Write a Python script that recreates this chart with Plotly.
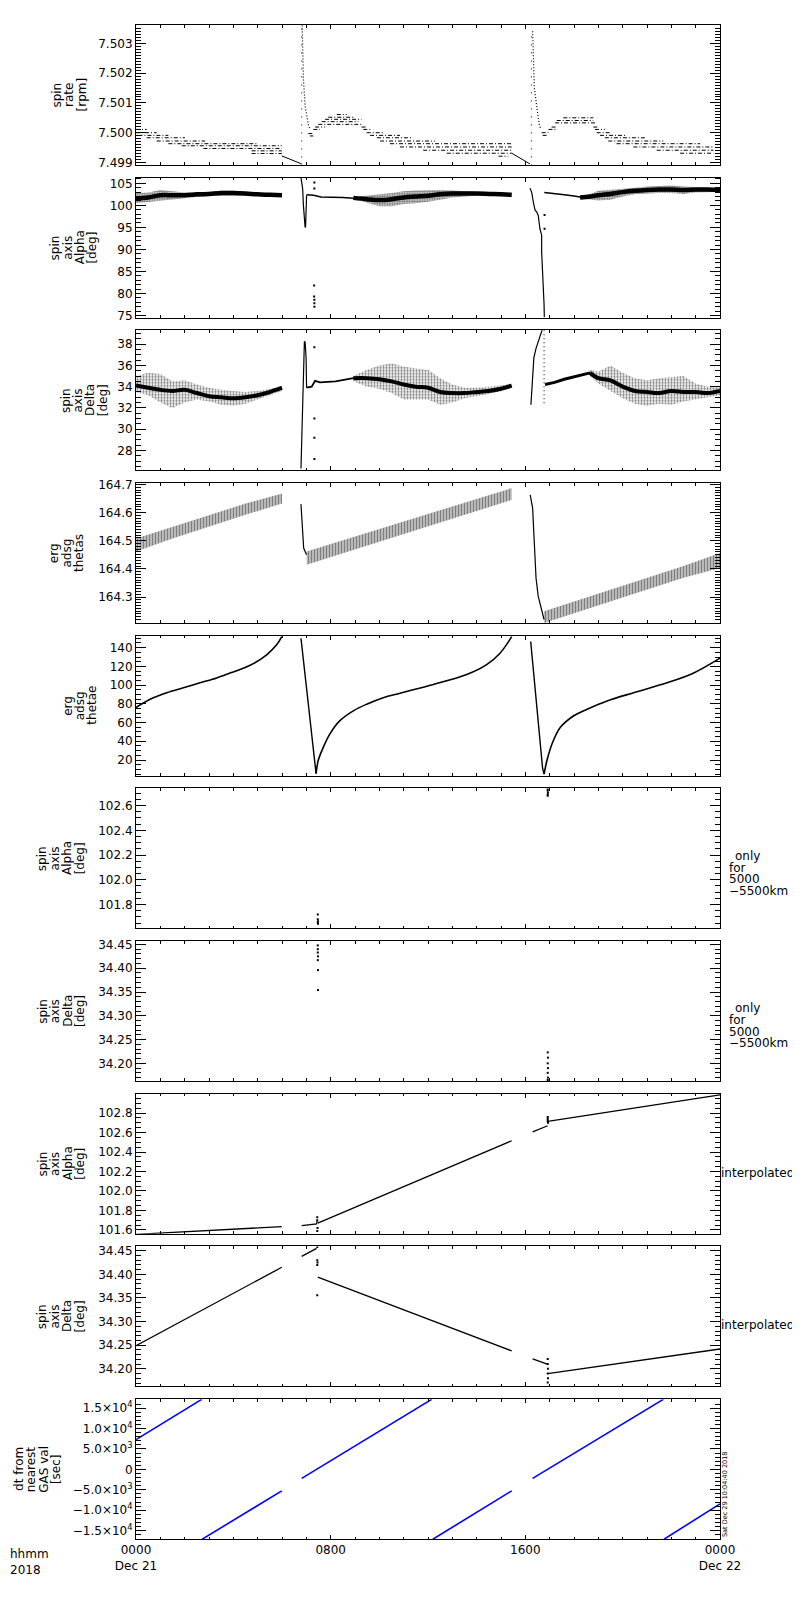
import plotly.graph_objects as go
from plotly.subplots import make_subplots

# ---------------- x axis (hours from 0000 Dec 21 2018) ----------------
X_RANGE = [0, 24]
X_TICKS = [0, 8, 16, 24]
X_TICKTEXT = ["0000<br>Dec 21", "0800", "1600", "0000<br>Dec 22"]

# ---------------- panel 1: spin rate [rpm] ----------------
p1_seg_t0 = [0.0, 0.0, 0.1, 0.44, 0.85, 1.33, 1.88, 2.77, 4.75, 4.75,
             7.08, 7.15, 7.29, 7.36, 7.49, 7.63, 7.77, 7.9, 8.25,
             9.27, 9.34, 9.48, 9.62, 9.9, 10.03, 10.44, 10.85, 11.8, 12.77, 14.9,
             16.67, 16.71, 16.95, 17.08, 17.22, 17.29, 17.56,
             18.79, 18.86, 18.93, 19.07, 19.27, 19.41, 19.75, 20.44, 21.4, 22.36]
p1_seg_t1 = [0.44, 0.85, 1.33, 2.01, 2.84, 5.03, 5.99, 5.99, 5.99, 5.99,
             7.29, 7.29, 7.56, 7.77, 9.34, 9.14, 9.27, 8.93, 8.66,
             9.48, 9.69, 10.16, 10.85, 11.34, 12.29, 15.44, 15.44, 15.44, 15.44, 15.3,
             16.95, 16.95, 17.29, 17.29, 18.93, 18.79, 18.79,
             19.0, 19.27, 19.48, 20.17, 20.92, 21.67, 23.18, 23.73, 23.73, 23.73]
p1_seg_v = [7.50011, 7.50000, 7.49991, 7.49983, 7.49972, 7.49963, 7.49956, 7.49947, 7.49939, 7.49930,
            7.49997, 7.49989, 7.50011, 7.50019, 7.50028, 7.50037, 7.50045, 7.50052, 7.50061,
            7.50019, 7.50011, 7.50000, 7.49991, 7.49983, 7.49972, 7.49963, 7.49952, 7.49941, 7.49931, 7.49921,
            7.50000, 7.49991, 7.50011, 7.50019, 7.50033, 7.50041, 7.50050,
            7.50019, 7.50011, 7.50000, 7.49991, 7.49983, 7.49972, 7.49963, 7.49952, 7.49941, 7.49931]
p1_slope1_t = [5.99, 6.4, 6.81]
p1_slope1_v = [7.49922, 7.49908, 7.49895]
p1_slope2_t = [15.44, 15.8, 16.19]
p1_slope2_v = [7.49931, 7.49913, 7.49895]
p1_col1_t = [6.81, 6.81]
p1_col1_v = [7.49890, 7.50360]
p1_col2_t = [16.25, 16.25]
p1_col2_v = [7.49890, 7.50340]
p1_decay1_t = [6.83, 6.88, 6.95, 7.01, 7.08, 7.15]
p1_decay1_v = [7.50360, 7.50180, 7.50090, 7.50060, 7.50028, 7.50011]
p1_decay2_t = [16.30, 16.33, 16.37, 16.44, 16.51, 16.57, 16.64]
p1_decay2_v = [7.50341, 7.50217, 7.50150, 7.50106, 7.50061, 7.50028, 7.50011]

# ---------------- panel 2: spin axis Alpha [deg] ----------------
p2_b1_t = [0, 0.5, 1.0, 1.5, 2.0, 2.5, 3.0, 3.5, 4.0, 4.5, 5.0, 5.5, 6.0]
p2_b1_hi = [102.8, 102.9, 103.5, 103.2, 102.9, 102.8, 102.9, 103.3, 103.3, 103.0, 102.8, 102.6, 102.5]
p2_b1_lo = [100.5, 100.7, 101.1, 101.3, 101.6, 101.9, 102.1, 102.2, 102.2, 102.2, 102.2, 102.1, 102.0]
p2_b1_mid = [101.6, 101.8, 102.3, 102.3, 102.3, 102.5, 102.6, 102.8, 102.8, 102.7, 102.5, 102.4, 102.3]
p2_spike1_t = [6.78, 6.85, 6.88, 6.90, 6.92, 6.95, 6.97, 6.98, 7.01]
p2_spike1_v = [106.3, 103.7, 100.0, 97.7, 96.2, 95.0, 95.2, 97.4, 102.3]
p2_line1_t = [7.01, 7.3, 7.6, 8.0, 8.5, 8.93]
p2_line1_v = [102.4, 102.3, 101.9, 101.9, 101.8, 101.6]
p2_dots1_t = [7.33, 7.33, 7.32, 7.32, 7.33, 7.33, 7.33]
p2_dots1_v = [105.2, 103.8, 81.8, 79.3, 78.6, 77.8, 77.0]
p2_b2_t = [8.93, 9.5, 10.0, 10.5, 11.0, 11.5, 12.0, 12.5, 13.0, 13.5, 14.0, 14.5, 15.0, 15.44]
p2_b2_hi = [101.9, 102.3, 102.5, 102.8, 103.2, 103.4, 103.5, 103.5, 103.4, 103.2, 103.0, 102.9, 102.8, 102.6]
p2_b2_lo = [101.5, 100.6, 99.8, 99.8, 100.3, 100.5, 100.8, 101.3, 101.8, 102.0, 102.2, 102.2, 102.2, 102.2]
p2_b2_mid = [101.7, 101.4, 101.2, 101.4, 101.8, 102.0, 102.2, 102.5, 102.7, 102.7, 102.7, 102.6, 102.5, 102.4]
p2_spike2_t = [16.19, 16.26, 16.33, 16.40, 16.47, 16.53, 16.60, 16.67, 16.67, 16.71, 16.74, 16.77, 16.78]
p2_spike2_v = [103.9, 103.0, 100.7, 98.9, 98.5, 97.7, 94.7, 93.2, 89.5, 85.7, 82.0, 77.5, 74.6]
p2_dots2_t = [16.79, 16.79]
p2_dots2_v = [97.8, 94.7]
p2_line2_t = [16.78, 17.2, 17.6, 18.0, 18.25]
p2_line2_v = [102.9, 102.7, 102.4, 102.1, 101.9]
p2_b3_t = [18.25, 18.66, 19.0, 19.5, 20.0, 20.5, 21.0, 21.5, 22.0, 22.5, 23.0, 23.5, 24.0]
p2_b3_hi = [102.0, 102.6, 103.3, 103.5, 103.8, 104.0, 104.3, 104.4, 104.5, 104.3, 104.1, 104.0, 104.0]
p2_b3_lo = [101.6, 101.4, 101.1, 101.3, 102.0, 102.5, 102.7, 102.8, 102.8, 102.6, 102.9, 103.0, 103.1]
p2_b3_mid = [101.8, 102.0, 102.3, 102.6, 103.0, 103.3, 103.5, 103.6, 103.6, 103.5, 103.6, 103.6, 103.5]

# ---------------- panel 3: spin axis Delta [deg] ----------------
p3_b1_t = [0, 0.5, 1.0, 1.5, 2.0, 2.5, 3.0, 3.5, 4.0, 4.5, 5.0, 5.5, 6.0]
p3_b1_hi = [35.0, 35.3, 35.2, 34.5, 34.6, 34.2, 33.9, 33.7, 33.6, 33.5, 33.6, 33.8, 34.0]
p3_b1_lo = [33.5, 33.2, 32.5, 32.0, 32.5, 32.8, 32.6, 32.3, 32.2, 32.4, 32.8, 33.2, 33.6]
p3_b1_mid = [34.1, 33.9, 33.7, 33.6, 33.7, 33.4, 33.1, 33.0, 32.9, 33.0, 33.2, 33.5, 33.9]
p3_spike1_t = [6.78, 6.81, 6.84, 6.86, 6.89, 6.92, 6.95, 6.97, 6.99, 7.01]
p3_spike1_v = [26.3, 29.2, 32.0, 35.4, 37.6, 38.25, 38.2, 37.6, 36.7, 33.9]
p3_line1_t = [7.01, 7.22, 7.36, 7.56, 8.2, 8.93]
p3_line1_v = [33.9, 34.0, 34.55, 34.4, 34.5, 34.8]
p3_dots1_t = [7.33, 7.33, 7.33, 7.33]
p3_dots1_v = [37.7, 31.0, 29.2, 27.2]
p3_b2_t = [8.93, 9.5, 10.0, 10.5, 11.0, 11.5, 12.0, 12.5, 13.0, 13.5, 14.0, 14.5, 15.0, 15.44]
p3_b2_hi = [35.0, 35.6, 36.0, 36.2, 35.9, 35.7, 35.6, 34.8, 34.2, 33.9, 33.9, 34.0, 34.1, 34.3]
p3_b2_lo = [34.5, 34.0, 33.8, 33.4, 32.8, 32.8, 32.8, 32.3, 32.5, 32.9, 33.1, 33.3, 33.6, 33.9]
p3_b2_mid = [34.8, 34.8, 34.7, 34.5, 34.2, 34.0, 33.9, 33.5, 33.4, 33.4, 33.5, 33.6, 33.8, 34.1]
p3_spike2_t = [16.23, 16.28, 16.35, 16.44, 16.53, 16.60, 16.67, 16.70]
p3_spike2_v = [32.3, 34.5, 36.7, 37.6, 38.25, 38.9, 39.2, 39.4]
p3_col2_t = [16.77, 16.77]
p3_col2_v = [39.3, 32.3]
p3_line2_t = [16.81, 17.2, 17.6, 18.0, 18.3, 18.66]
p3_line2_v = [34.2, 34.4, 34.7, 34.9, 35.1, 35.3]
p3_b3_t = [18.66, 19.0, 19.5, 20.0, 20.5, 21.0, 21.5, 22.0, 22.5, 23.0, 23.5, 24.0]
p3_b3_hi = [35.6, 35.4, 36.0, 35.3, 34.8, 34.6, 34.8, 34.9, 35.0, 34.3, 34.0, 34.0]
p3_b3_lo = [35.0, 34.3, 33.6, 32.9, 32.4, 32.2, 32.4, 32.3, 32.6, 32.8, 33.0, 33.2]
p3_b3_mid = [35.3, 34.8, 34.6, 34.0, 33.6, 33.5, 33.4, 33.6, 33.5, 33.5, 33.4, 33.6]

# ---------------- panel 4: erg adsg thetas ----------------
p4_b1_t = [0, 1.5, 3.0, 4.5, 6.0]
p4_b1_hi = [164.508, 164.550, 164.592, 164.632, 164.668]
p4_b1_lo = [164.462, 164.508, 164.550, 164.592, 164.632]
p4_spike1_t = [6.78, 6.81, 6.85, 6.89, 6.95, 7.01]
p4_spike1_v = [164.630, 164.592, 164.521, 164.474, 164.462, 164.450]
p4_b2_t = [7.01, 9.0, 11.0, 13.0, 15.44]
p4_b2_hi = [164.462, 164.514, 164.568, 164.622, 164.687]
p4_b2_lo = [164.415, 164.470, 164.524, 164.578, 164.645]
p4_spike2_t = [16.20, 16.30, 16.36, 16.44, 16.53, 16.67, 16.77]
p4_spike2_v = [164.663, 164.616, 164.509, 164.367, 164.302, 164.249, 164.220]
p4_b3_t = [16.77, 18.5, 20.5, 22.5, 24.0]
p4_b3_hi = [164.249, 164.298, 164.353, 164.410, 164.456]
p4_b3_lo = [164.208, 164.258, 164.313, 164.368, 164.403]

# ---------------- panel 5: erg adsg thetae ----------------
p5_a_t = [0, 0.58, 1.26, 1.95, 2.63, 3.32, 4.0, 4.69, 5.37, 5.78, 5.99]
p5_a_v = [76.1, 84.9, 91.9, 97.2, 102.5, 107.7, 114.1, 121.1, 132.4, 143.0, 151.8]
p5_b_t = [6.78, 7.36, 7.40]
p5_b_v = [150.0, 9.0, 5.5]
p5_c_t = [7.40, 7.49, 7.7, 7.97, 8.38, 8.93, 9.48, 10.16, 10.85, 12.22, 13.59, 14.41, 14.96, 15.44]
p5_c_v = [5.5, 19.7, 33.8, 47.9, 62.0, 72.5, 79.6, 86.6, 91.4, 100.7, 111.3, 121.9, 134.1, 151.7]
p5_d_t = [16.22, 16.71, 16.77]
p5_d_v = [146.5, 11.0, 5.0]
p5_e_t = [16.77, 16.89, 17.1, 17.44, 17.99, 18.54, 19.36, 20.45, 21.82, 22.92, 24.0]
p5_e_v = [5.0, 19.7, 37.4, 54.9, 67.3, 74.3, 83.1, 91.9, 102.4, 113.0, 128.8]

# ---------------- panel 6 / 7: only for 5000-5500 km ----------------
p6_t = [7.47, 7.47, 7.48, 7.47, 7.48, 16.92, 16.92, 16.93, 16.92, 16.92]
p6_v = [101.72, 101.68, 101.665, 101.655, 101.645, 102.735, 102.72, 102.705, 102.69, 102.68]
p7_t = [7.47, 7.47, 7.47, 7.48, 7.47, 7.48, 7.48,
        16.92, 16.93, 16.92, 16.93, 16.92, 16.93, 16.92]
p7_v = [34.448, 34.440, 34.433, 34.425, 34.417, 34.396, 34.354,
        34.223, 34.212, 34.200, 34.190, 34.180, 34.170, 34.165]

# ---------------- panel 8: spin axis Alpha interpolated ----------------
p8_a_t = [0.0, 0.71, 2.0, 3.5, 5.99]
p8_a_v = [101.555, 101.565, 101.580, 101.605, 101.634]
p8_b_t = [6.81, 7.42, 7.45]
p8_b_v = [101.644, 101.661, 101.695]
p8_c_t = [7.47, 10.85, 15.44]
p8_c_v = [101.670, 102.030, 102.516]
p8_d_t = [16.30, 16.92]
p8_d_v = [102.608, 102.670]
p8_e_t = [16.92, 24.0]
p8_e_v = [102.714, 102.988]
p8_dots_t = [7.45, 7.45, 7.46, 7.45, 16.92, 16.92, 16.92, 16.93]
p8_dots_v = [101.73, 101.70, 101.62, 101.59, 102.76, 102.74, 102.72, 102.70]

# ---------------- panel 9: spin axis Delta interpolated ----------------
p9_a_t = [0.0, 5.99]
p9_a_v = [34.249, 34.415]
p9_b_t = [6.81, 7.42]
p9_b_v = [34.438, 34.455]
p9_c_t = [7.47, 15.44]
p9_c_v = [34.394, 34.238]
p9_d_t = [16.30, 16.90]
p9_d_v = [34.221, 34.210]
p9_e_t = [16.92, 24.0]
p9_e_v = [34.190, 34.242]
p9_dots_t = [7.45, 7.45, 7.46, 7.45, 7.45, 16.92, 16.92, 16.93, 16.92, 16.93, 16.92]
p9_dots_v = [34.458, 34.430, 34.425, 34.420, 34.356, 34.221, 34.210, 34.200, 34.190, 34.180, 34.171]

# ---------------- panel 10: dt from nearest GAS val [sec] ----------------
p10_t0 = [0.0, 2.72, 6.81, 12.20, 16.30, 21.70]
p10_t1 = [2.70, 5.99, 12.15, 15.44, 21.67, 24.0]
p10_v0 = [7300, -17100, -2200, -17100, -2200, -17100]
p10_v1 = [17150, -5250, 17150, -5250, 17150, -8450]
P10_TICKVALS = [-15000, -10000, -5000, 0, 5000, 10000, 15000]
P10_TICKTEXT = ["\u22121.5\u00d710<sup>4</sup>", "\u22121.0\u00d710<sup>4</sup>",
                "\u22125.0\u00d710<sup>3</sup>", "0", "5.0\u00d710<sup>3</sup>",
                "1.0\u00d710<sup>4</sup>", "1.5\u00d710<sup>4</sup>"]

YTITLES = [
    ["spin", "rate", "[rpm]"],
    ["spin", "axis", "Alpha", "[deg]"],
    ["spin", "axis", "Delta", "[deg]"],
    ["erg", "adsg", "thetas"],
    ["erg", "adsg", "thetae"],
    ["spin", "axis", "Alpha", "[deg]"],
    ["spin", "axis", "Delta", "[deg]"],
    ["spin", "axis", "Alpha", "[deg]"],
    ["spin", "axis", "Delta", "[deg]"],
    ["dt from", "nearest", "GAS val", "[sec]"],
]
SIDE_NOTE = ["only", "for", "5000", "\u22125500km"]
STAMP = "Sat Dec 29 10:04:40 2018"

# ---------------- figure ----------------
# the page body has an 8px margin, so the figure is shifted by OFF
OFF = 8
W, H = 800 - OFF, 1600 - 2 * OFF
ML, MT = 136 - OFF, 23 - OFF
PW, PH = 584, 1516
MR, MB = W - ML - PW, H - MT - PH
FONT = "DejaVu Sans"
BLACK = "#000000"

fig = make_subplots(rows=10, cols=1, vertical_spacing=0.0085)


def px_x(px):
    # page pixel -> paper coordinate
    return (px - OFF - ML) / PW


def px_y(py):
    return (MT + PH - (py - OFF)) / PH


def add_line(row, t, v, width=1.0, color=BLACK, dash="solid", shape="linear"):
    fig.add_trace(go.Scatter(x=t, y=v, mode="lines", hoverinfo="skip",
                             line=dict(color=color, width=width, dash=dash, shape=shape)),
                  row=row, col=1)


def add_dots(row, t, v, size=2):
    fig.add_trace(go.Scatter(x=t, y=v, mode="markers", hoverinfo="skip",
                             marker=dict(color=BLACK, size=size, symbol="square")),
                  row=row, col=1)


def add_band(row, t, lo, hi, shape=".", size=3, solidity=0.45):
    fig.add_trace(go.Scatter(x=list(t) + list(t)[::-1], y=list(hi) + list(lo)[::-1],
                             mode="lines", line=dict(width=0), fill="toself",
                             fillcolor="white", hoverinfo="skip",
                             fillpattern=dict(shape=shape, fgcolor=BLACK, bgcolor="white",
                                              size=size, solidity=solidity)),
                  row=row, col=1)


def segments(t0, t1, v0, v1=None):
    xs, ys = [], []
    if v1 is None:
        v1 = v0
    for a, b, c, d in zip(t0, t1, v0, v1):
        xs += [a, b, None]
        ys += [c, d, None]
    return xs, ys


# panel 1
sx, sy = segments(p1_seg_t0, p1_seg_t1, p1_seg_v)
add_line(1, sx, sy, width=1, dash="4px,2px,1px,2px")
add_line(1, p1_slope1_t, p1_slope1_v, width=1)
add_line(1, p1_slope2_t, p1_slope2_v, width=1)
add_line(1, p1_col1_t, p1_col1_v, width=1, dash="1px,7px")
add_line(1, p1_col2_t, p1_col2_v, width=1, dash="1px,7px")
add_line(1, p1_decay1_t, p1_decay1_v, width=1.2, dash="1px,2px")
add_line(1, p1_decay2_t, p1_decay2_v, width=1.2, dash="1px,2px")

# panel 2
for t, lo, hi, mid in [(p2_b1_t, p2_b1_lo, p2_b1_hi, p2_b1_mid),
                       (p2_b2_t, p2_b2_lo, p2_b2_hi, p2_b2_mid),
                       (p2_b3_t, p2_b3_lo, p2_b3_hi, p2_b3_mid)]:
    add_band(2, t, lo, hi, size=2.5, solidity=0.7)
    add_line(2, t, mid, width=4.5, shape="spline")
add_line(2, p2_spike1_t, p2_spike1_v, width=1.2)
add_line(2, p2_line1_t, p2_line1_v, width=1.5)
add_line(2, p2_spike2_t, p2_spike2_v, width=1.2)
add_line(2, p2_line2_t, p2_line2_v, width=1.5)
add_dots(2, p2_dots1_t, p2_dots1_v)
add_dots(2, p2_dots2_t, p2_dots2_v)

# panel 3
for t, lo, hi, mid in [(p3_b1_t, p3_b1_lo, p3_b1_hi, p3_b1_mid),
                       (p3_b2_t, p3_b2_lo, p3_b2_hi, p3_b2_mid),
                       (p3_b3_t, p3_b3_lo, p3_b3_hi, p3_b3_mid)]:
    add_band(3, t, lo, hi, size=3, solidity=0.45)
    add_line(3, t, mid, width=4, shape="spline")
add_line(3, p3_spike1_t, p3_spike1_v, width=1.2)
add_line(3, p3_line1_t, p3_line1_v, width=1.8)
add_dots(3, p3_dots1_t, p3_dots1_v)
add_line(3, p3_spike2_t, p3_spike2_v, width=1.2)
add_line(3, p3_col2_t, p3_col2_v, width=1, dash="1px,3px")
add_line(3, p3_line2_t, p3_line2_v, width=3)

# panel 4
for t, lo, hi in [(p4_b1_t, p4_b1_lo, p4_b1_hi),
                  (p4_b2_t, p4_b2_lo, p4_b2_hi),
                  (p4_b3_t, p4_b3_lo, p4_b3_hi)]:
    add_band(4, t, lo, hi, shape="|", size=3, solidity=0.7)
add_line(4, p4_spike1_t, p4_spike1_v, width=1.2)
add_line(4, p4_spike2_t, p4_spike2_v, width=1.2)

# panel 5
add_line(5, p5_a_t, p5_a_v, width=1.6, shape="spline")
add_line(5, p5_b_t, p5_b_v, width=1.4)
add_line(5, p5_c_t, p5_c_v, width=1.6, shape="spline")
add_line(5, p5_d_t, p5_d_v, width=1.4)
add_line(5, p5_e_t, p5_e_v, width=1.6, shape="spline")

# panels 6, 7
add_dots(6, p6_t, p6_v, size=2)
add_dots(7, p7_t, p7_v, size=2)

# panel 8
for t, v in [(p8_a_t, p8_a_v), (p8_b_t, p8_b_v), (p8_c_t, p8_c_v),
             (p8_d_t, p8_d_v), (p8_e_t, p8_e_v)]:
    add_line(8, t, v, width=1.3)
add_dots(8, p8_dots_t, p8_dots_v, size=2)

# panel 9
for t, v in [(p9_a_t, p9_a_v), (p9_b_t, p9_b_v), (p9_c_t, p9_c_v),
             (p9_d_t, p9_d_v), (p9_e_t, p9_e_v)]:
    add_line(9, t, v, width=1.3)
add_dots(9, p9_dots_t, p9_dots_v, size=2)

# panel 10
bx, by = segments(p10_t0, p10_t1, p10_v0, p10_v1)
add_line(10, bx, by, width=1.6, color="#0000ff")

# ---------------- axes ----------------
Y_AXES = [
    dict(range=[7.49892, 7.50362], tick0=7.499, dtick=0.001, tickformat=".3f", minor=0.0001),
    dict(range=[74.55, 106.28], tick0=75, dtick=5, tickformat="d", minor=1),
    dict(range=[26.15, 39.29], tick0=28, dtick=2, tickformat="d", minor=0.5),
    dict(range=[164.208, 164.705], tick0=164.3, dtick=0.1, tickformat=".1f", minor=0.01),
    dict(range=[3.4, 152.7], tick0=20, dtick=20, tickformat="d", minor=5),
    dict(range=[101.608, 102.739], tick0=101.8, dtick=0.2, tickformat=".1f", minor=0.05),
    dict(range=[34.163, 34.457], tick0=34.2, dtick=0.05, tickformat=".2f", minor=0.01),
    dict(range=[101.562, 102.998], tick0=101.6, dtick=0.2, tickformat=".1f", minor=0.05),
    dict(range=[34.163, 34.459], tick0=34.2, dtick=0.05, tickformat=".2f", minor=0.01),
    dict(range=[-17050, 17200], minor=1000),
]

for i, ya in enumerate(Y_AXES, start=1):
    common = dict(range=ya["range"], showgrid=False, zeroline=False, showline=True,
                  linecolor=BLACK, linewidth=1, mirror="ticks", ticks="inside",
                  ticklen=10, tickwidth=1, tickcolor=BLACK,
                  tickfont=dict(family=FONT, size=12, color=BLACK),
                  minor=dict(ticks="inside", ticklen=5, tickwidth=1, tickcolor=BLACK,
                             tickmode="linear", tick0=0, dtick=ya["minor"], showgrid=False))
    if i == 10:
        fig.update_yaxes(tickmode="array", tickvals=P10_TICKVALS, ticktext=P10_TICKTEXT,
                         row=i, col=1, **common)
    else:
        fig.update_yaxes(tickmode="linear", tick0=ya["tick0"], dtick=ya["dtick"],
                         tickformat=ya["tickformat"], row=i, col=1, **common)
    fig.update_xaxes(range=X_RANGE, showgrid=False, zeroline=False, showline=True,
                     linecolor=BLACK, linewidth=1, mirror="ticks", ticks="inside",
                     ticklen=4, tickwidth=1, tickcolor=BLACK,
                     tickmode="array", tickvals=X_TICKS, ticktext=X_TICKTEXT,
                     showticklabels=(i == 10),
                     tickfont=dict(family=FONT, size=12, color=BLACK),
                     minor=dict(ticks="inside", ticklen=2.5, tickwidth=1, tickcolor=BLACK,
                                tickmode="linear", tick0=0, dtick=1, showgrid=False),
                     row=i, col=1)

# ---------------- text ----------------
ann = []
TITLE_RIGHT = [81.5, 92, 103, 79, 92, 80, 80, 80, 80, 56]
LINE_GAP = 12.4
for i, lines in enumerate(YTITLES, start=1):
    n = len(lines)
    yref = "y domain" if i == 1 else "y%d domain" % i
    for k, txt in enumerate(lines):
        cx = TITLE_RIGHT[i - 1] - (n - 1 - k) * LINE_GAP
        ann.append(dict(text=txt, textangle=-90, xref="paper", yref=yref,
                        x=px_x(cx), y=0.5, xanchor="center", yanchor="middle",
                        showarrow=False, font=dict(family=FONT, size=12, color=BLACK)))

for base in [855, 1007.5]:
    for k, txt in enumerate(SIDE_NOTE):
        ann.append(dict(text=txt, xref="paper", yref="paper",
                        x=px_x(733 if k == 0 else 727), y=px_y(base + k * 11.7),
                        xanchor="left", yanchor="middle", showarrow=False,
                        font=dict(family=FONT, size=12, color=BLACK)))

for py in [1172.3, 1324.3]:
    ann.append(dict(text="interpolated", xref="paper", yref="paper",
                    x=px_x(719), y=px_y(py), xanchor="left", yanchor="middle",
                    showarrow=False, font=dict(family=FONT, size=12, color=BLACK)))

ann.append(dict(text=STAMP, textangle=-90, xref="paper", yref="paper",
                x=px_x(725), y=px_y(1494), xanchor="center", yanchor="middle",
                showarrow=False, font=dict(family=FONT, size=6.5, color=BLACK)))

ann.append(dict(text="hhmm<br>2018", xref="paper", yref="paper",
                x=px_x(8), y=px_y(1545), xanchor="left", yanchor="top", align="left",
                showarrow=False, font=dict(family=FONT, size=12, color=BLACK)))

fig.update_layout(width=W, height=H, margin=dict(l=ML, r=MR, t=MT, b=MB),
                  paper_bgcolor="white", plot_bgcolor="white", showlegend=False,
                  font=dict(family=FONT, size=12, color=BLACK), annotations=ann)

fig.write_html("out.html")
